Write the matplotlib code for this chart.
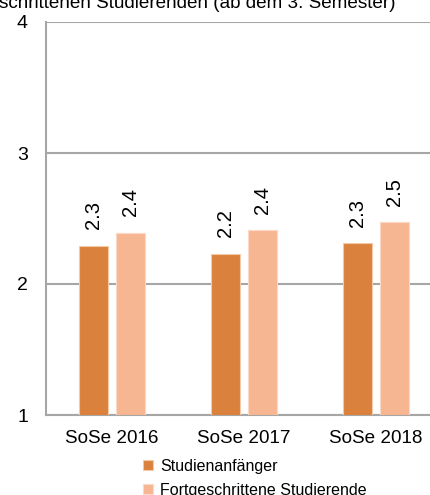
import matplotlib
matplotlib.use("Agg")
import matplotlib.pyplot as plt
import numpy as np

plt.rcParams['font.family'] = ['Liberation Sans', 'DejaVu Sans']

categories = ["SoSe 2016", "SoSe 2017", "SoSe 2018"]
series_names = ["Studienanfänger", "Fortgeschrittene Studierende"]
anfaenger = [2.29, 2.23, 2.31]
fortgeschrittene = [2.39, 2.41, 2.47]
yticks = [1, 2, 3, 4]
title_text = "schrittenen Studierenden (ab dem 3. Semester)"

c_dark = "#DA823D"
c_light = "#F7B692"
grid_c = "#A6A6A6"

W, H = 430, 495
fig = plt.figure(figsize=(W / 100, H / 100), dpi=100)
ax = fig.add_axes([46 / W, (H - 415) / H, (442 - 46) / W, (415 - 22) / H])

x = np.arange(len(categories))
bw = 0.22
off = 0.142
b1 = ax.bar(x - off, anfaenger, bw, bottom=0, color=c_dark, edgecolor="#F3C9A6",
            linewidth=0.8, label=series_names[0], zorder=3)
b2 = ax.bar(x + off, fortgeschrittene, bw, bottom=0, color=c_light, edgecolor="#FBD9C6",
            linewidth=0.8, label=series_names[1], zorder=3)

for xs, vals in ((x - off, anfaenger), (x + off, fortgeschrittene)):
    for xi, v in zip(xs, vals):
        ax.annotate(f"{v:.1f}", (xi, v), xytext=(0, 12), textcoords="offset points",
                    rotation=90, ha="center", va="bottom", fontsize=14.5, color="black")

ax.set_xlim(-0.5, 2.5)
ax.set_ylim(1, 4)
ax.set_yticks(yticks)
ax.set_xticks(x)
ax.set_xticklabels(categories, fontsize=13.6)
ax.set_yticklabels([str(t) for t in yticks], fontsize=14)
ax.tick_params(axis="both", length=0)
ax.tick_params(axis="y", pad=13)
ax.tick_params(axis="x", pad=11)
ax.yaxis.grid(True, color=grid_c, linewidth=1.5, zorder=0)
ax.set_axisbelow(True)
for s in ("top", "right"):
    ax.spines[s].set_visible(False)
ax.spines["left"].set_color(grid_c)
ax.spines["left"].set_linewidth(1.5)
ax.spines["bottom"].set_color(grid_c)
ax.spines["bottom"].set_linewidth(1.5)

fig.text(-1 / W, 1 - 8 / H, title_text, ha="left", va="baseline", fontsize=13.6, color="black")

fig.legend(handles=[b1, b2], labels=series_names, loc="upper left",
           bbox_to_anchor=(143 / W, 1 - 459 / H), frameon=False, fontsize=11.5,
           handlelength=0.6, handleheight=0.6, handletextpad=0.45, labelspacing=0.55,
           borderpad=0, borderaxespad=0)

fig.savefig("out.png", dpi=100)
